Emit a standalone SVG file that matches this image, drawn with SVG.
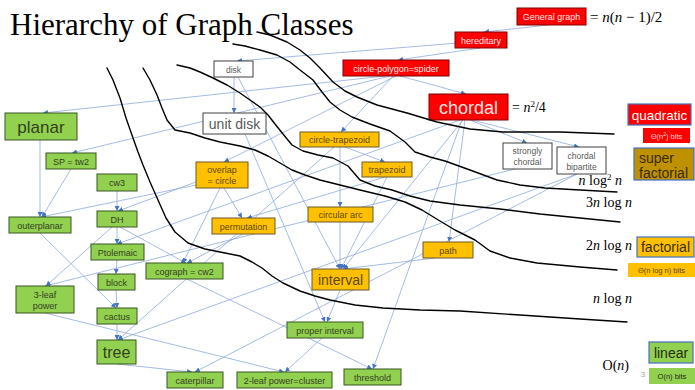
<svg xmlns="http://www.w3.org/2000/svg" width="695" height="390" viewBox="0 0 695 390">
<defs>
<marker id="ah" viewBox="0 0 5 5" refX="5" refY="2.5" markerWidth="5" markerHeight="5" markerUnits="userSpaceOnUse" orient="auto"><path d="M0,0 L5,2.5 L0,5 z" fill="#4472C4"/></marker>
<style>
text{font-family:"Liberation Sans",Arial,sans-serif;text-anchor:middle}
.e{stroke:#8FAADC;stroke-width:0.8;fill:none;marker-end:url(#ah)}
.c{stroke:#000;stroke-width:1.4;fill:none;stroke-linejoin:round;stroke-linecap:round}
.red rect{fill:#FF0000;stroke:#7F0000;stroke-width:1}
.red text{fill:#FFE6E6;font-size:9px}
.wht rect{fill:#FFFFFF;stroke:#404040;stroke-width:1}
.wht text{fill:#595959;font-size:8.5px}
.org rect{fill:#FFC000;stroke:#6B5A2A;stroke-width:1}
.org text{fill:#5E4A00;font-size:9px}
.grn rect{fill:#92D050;stroke:#375623;stroke-width:1}
.grn text{fill:#33421F;font-size:9px}
.leg rect{stroke:#4472C4;stroke-width:1.2}
.math{font-family:"Liberation Serif","Times New Roman",serif;font-size:14px;fill:#000}
.math tspan.i{font-style:italic}
</style>
</defs>
<rect width="695" height="390" fill="#FFFFFF"/>
<text x="10" y="35" style="font-family:'Liberation Serif','Times New Roman',serif;font-size:31px;text-anchor:start" fill="#000">Hierarchy of Graph Classes</text>

<g id="connectors">
<path class="e" d="M548,25 L484,32"/>
<path class="e" d="M480,48 L398,60"/>
<path class="e" d="M458,43 L237,61"/>
<path class="e" d="M400,76 L466,94"/>
<path class="e" d="M393,76 L341,132"/>
<path class="e" d="M385,76 L43,113"/>
<path class="e" d="M390,76 L72,153"/>
<path class="e" d="M396,76 L224,162"/>
<path class="e" d="M234,77 L234,113"/>
<path class="e" d="M238,77 L340,269"/>
<path class="e" d="M245,134 L325,322"/>
<path class="e" d="M470,120 L527,143"/>
<path class="e" d="M472,120 L579,147"/>
<path class="e" d="M465,120 L449,242"/>
<path class="e" d="M463,120 L343,269"/>
<path class="e" d="M460,120 L117,244"/>
<path class="e" d="M462,120 L373,369"/>
<path class="e" d="M515,169 L45,286"/>
<path class="e" d="M577,174 L118,340"/>
<path class="e" d="M577,174 L195,372"/>
<path class="e" d="M340,147 L340,207"/>
<path class="e" d="M345,147 L385,162"/>
<path class="e" d="M334,147 L118,340"/>
<path class="e" d="M385,177 L247,218"/>
<path class="e" d="M387,177 L341,269"/>
<path class="e" d="M340,222 L340,269"/>
<path class="e" d="M224,188 L242,218"/>
<path class="e" d="M220,188 L183,263"/>
<path class="e" d="M196,182 L118,211"/>
<path class="e" d="M196,185 L41,217"/>
<path class="e" d="M243,234 L187,263"/>
<path class="e" d="M435,258 L343,269"/>
<path class="e" d="M340,290 L327,322"/>
<path class="e" d="M322,338 L285,372"/>
<path class="e" d="M40,140 L40,217"/>
<path class="e" d="M71,169 L42,217"/>
<path class="e" d="M117,191 L117,211"/>
<path class="e" d="M117,227 L117,244"/>
<path class="e" d="M120,227 L186,263"/>
<path class="e" d="M112,227 L46,286"/>
<path class="e" d="M117,260 L116,274"/>
<path class="e" d="M116,290 L117,308"/>
<path class="e" d="M117,324 L117,340"/>
<path class="e" d="M40,233 L116,308"/>
<path class="e" d="M117,364 L192,372"/>
<path class="e" d="M45,313 L284,372"/>
<path class="e" d="M187,279 L372,369"/>
</g>

<g id="n-general" class="red"><rect x="517" y="8" width="69" height="17"/><text x="551.5" y="19.5">General graph</text></g>
<g id="n-hereditary" class="red"><rect x="455" y="32" width="52" height="16"/><text x="481" y="43.5">hereditary</text></g>
<g id="n-circlepolygon" class="red"><rect x="343" y="60" width="106" height="16"/><text x="396" y="71.5">circle-polygon=spider</text></g>
<g id="n-chordal" class="red"><rect x="429" y="94" width="79" height="26"/><text x="468.5" y="113.5" style="font-size:18px">chordal</text></g>

<g id="n-disk" class="wht"><rect x="214" y="61" width="39" height="16"/><text x="233.5" y="72.5">disk</text></g>
<g id="n-unitdisk" class="wht"><rect x="203" y="113" width="63" height="21"/><text x="234.5" y="128.5" style="font-size:14px">unit disk</text></g>
<g id="n-strongly" class="wht"><rect x="503" y="143" width="49" height="26"/><text x="527.5" y="154">strongly</text><text x="527.5" y="165">chordal</text></g>
<g id="n-chordbip" class="wht"><rect x="557" y="147" width="49" height="27"/><text x="581.5" y="158.5">chordal</text><text x="581.5" y="169.5">bipartite</text></g>

<g id="n-circletrap" class="org"><rect x="300" y="132" width="79" height="15"/><text x="339.5" y="143">circle-trapezoid</text></g>
<g id="n-trapezoid" class="org"><rect x="362" y="162" width="50" height="15"/><text x="387" y="173">trapezoid</text></g>
<g id="n-overlap" class="org"><rect x="196" y="162" width="52" height="26"/><text x="222" y="173">overlap</text><text x="222" y="184">= circle</text></g>
<g id="n-permutation" class="org"><rect x="212" y="218" width="63" height="16"/><text x="243.5" y="229.5">permutation</text></g>
<g id="n-circarc" class="org"><rect x="308" y="207" width="65" height="15"/><text x="340.5" y="218">circular arc</text></g>
<g id="n-interval" class="org"><rect x="312" y="269" width="57" height="21"/><text x="340.5" y="284.5" style="font-size:14px">interval</text></g>
<g id="n-path" class="org"><rect x="423" y="242" width="50" height="16"/><text x="448" y="253.5">path</text></g>

<g id="n-planar" class="grn"><rect x="5" y="113" width="72" height="27"/><text x="41" y="132.5" style="font-size:17px">planar</text></g>
<g id="n-sp" class="grn"><rect x="46" y="153" width="50" height="16"/><text x="71" y="164.5">SP = tw2</text></g>
<g id="n-cw3" class="grn"><rect x="97" y="174" width="40" height="17"/><text x="117" y="186">cw3</text></g>
<g id="n-outerplanar" class="grn"><rect x="9" y="217" width="62" height="16"/><text x="40" y="228.5">outerplanar</text></g>
<g id="n-dh" class="grn"><rect x="97" y="211" width="40" height="16"/><text x="117" y="222.5">DH</text></g>
<g id="n-ptolemaic" class="grn"><rect x="91" y="244" width="53" height="16"/><text x="117.5" y="255.5">Ptolemaic</text></g>
<g id="n-block" class="grn"><rect x="98" y="274" width="37" height="16"/><text x="116.5" y="285.5">block</text></g>
<g id="n-cactus" class="grn"><rect x="97" y="308" width="40" height="16"/><text x="117" y="319.5">cactus</text></g>
<g id="n-tree" class="grn"><rect x="97" y="340" width="39" height="24"/><text x="116.5" y="357.5" style="font-size:16px">tree</text></g>
<g id="n-3leaf" class="grn"><rect x="16" y="286" width="58" height="27"/><text x="45" y="297.5">3-leaf</text><text x="45" y="308.5">power</text></g>
<g id="n-cograph" class="grn"><rect x="146" y="263" width="77" height="16"/><text x="184.5" y="274.5">cograph = cw2</text></g>
<g id="n-caterpillar" class="grn"><rect x="167" y="372" width="56" height="16"/><text x="195" y="383.5">caterpillar</text></g>
<g id="n-2leaf" class="grn"><rect x="237" y="372" width="95" height="16"/><text x="284.5" y="383.5">2-leaf power=cluster</text></g>
<g id="n-threshold" class="grn"><rect x="344" y="369" width="57" height="16"/><text x="372.5" y="380.5">threshold</text></g>
<g id="n-properint" class="grn"><rect x="287" y="322" width="76" height="16"/><text x="325" y="333.5">proper interval</text></g>

<g id="boundaries">
<polyline class="c" points="257,32 270,35 287,42 300,50 310,58 320,68 333,82 345,91 357,97 377,105 407,113 437,122 470,129 503,132 560,132 614,134"/>
<polyline class="c" points="233,44 245,46 260,50 277,55 290,62 300,70 313,80 322,92 330,102 340,110 352,117 370,124 390,131 405,142 415,152 430,157 445,161 470,170 497,180 520,185 545,188 580,190 617,192"/>
<polyline class="c" points="177,65 190,68 200,72 213,78 227,85 240,93 250,100 260,107 268,115 275,124 283,134 292,145 303,151 318,155 333,158 348,166 360,180 375,186 392,190 410,196 430,201 460,205 500,209 540,214 580,218 620,222"/>
<polyline class="c" points="143,68 150,80 157,95 162,108 167,120 175,130 190,133 205,138 220,142 240,146 255,150 268,156 280,163 292,170 305,175 320,180 340,185 360,190 385,196 405,202 422,210 440,221 455,230 475,240 490,251 510,258 537,263 580,267 617,270"/>
<polyline class="c" points="107,68 113,80 120,98 126,118 133,138 138,152 143,165 150,182 158,200 166,218 175,232 188,243 205,249 225,253 240,256 252,262 262,268 272,276 283,283 300,291 315,296 330,300 355,305 383,308 420,310 460,311 520,315 580,319 627,322"/>
</g>

<g id="math-labels">
<text class="math" x="590" y="22" style="text-anchor:start;font-size:15px">= <tspan class="i">n</tspan>(<tspan class="i">n</tspan> − 1)/2</text>
<text class="math" x="512" y="112" style="text-anchor:start">= <tspan class="i">n</tspan><tspan baseline-shift="super" font-size="9">2</tspan>/4</text>
<text class="math" x="622" y="185" style="text-anchor:end"><tspan class="i">n</tspan> log<tspan baseline-shift="super" font-size="9">2</tspan> <tspan class="i">n</tspan></text>
<text class="math" x="632" y="207" style="text-anchor:end">3<tspan class="i">n</tspan> log <tspan class="i">n</tspan></text>
<text class="math" x="632" y="250" style="text-anchor:end">2<tspan class="i">n</tspan> log <tspan class="i">n</tspan></text>
<text class="math" x="632" y="303" style="text-anchor:end"><tspan class="i">n</tspan> log <tspan class="i">n</tspan></text>
<text class="math" x="629" y="370" style="text-anchor:end">O(<tspan class="i">n</tspan>)</text>
</g>

<g id="legend-quadratic" class="leg"><rect x="628" y="104" width="63" height="21" fill="#FF0000"/><text x="659.5" y="119.5" style="font-size:13.5px" fill="#FFFFFF">quadratic</text></g>
<g id="legend-quadratic-bits"><rect x="643" y="128" width="47" height="15" fill="#FF0000"/><text x="666.5" y="138.5" style="font-size:7.5px" fill="#FFD9D9">Θ(n<tspan baseline-shift="super" font-size="5">2</tspan>) bits</text></g>
<g id="legend-superfactorial" class="leg"><rect x="634" y="148" width="60" height="32" fill="#BF9000"/><text x="639" y="163" style="font-size:14px;text-anchor:start" fill="#3A2C00">super</text><text x="639" y="178" style="font-size:14px;text-anchor:start" fill="#3A2C00">factorial</text></g>
<g id="legend-factorial" class="leg"><rect x="637" y="237" width="57" height="20" fill="#FFC000"/><text x="665.5" y="252" style="font-size:14px" fill="#3A2C00">factorial</text></g>
<g id="legend-factorial-bits"><rect x="628" y="263" width="67" height="14" fill="#FFC000"/><text x="661.5" y="273" style="font-size:7.5px" fill="#5A4500">Θ(n log n) bits</text></g>
<g id="legend-linear" class="leg"><rect x="649" y="342" width="44" height="21" fill="#92D050"/><text x="671" y="357.5" style="font-size:14px" fill="#1F2D12">linear</text></g>
<g id="legend-linear-bits"><rect x="649" y="368" width="46" height="16" fill="#92D050"/><text x="672" y="379" style="font-size:7.5px" fill="#1F2D12">O(n) bits</text></g>
<text x="643" y="377" style="font-size:8px" fill="#A6A6A6">3</text>
</svg>
